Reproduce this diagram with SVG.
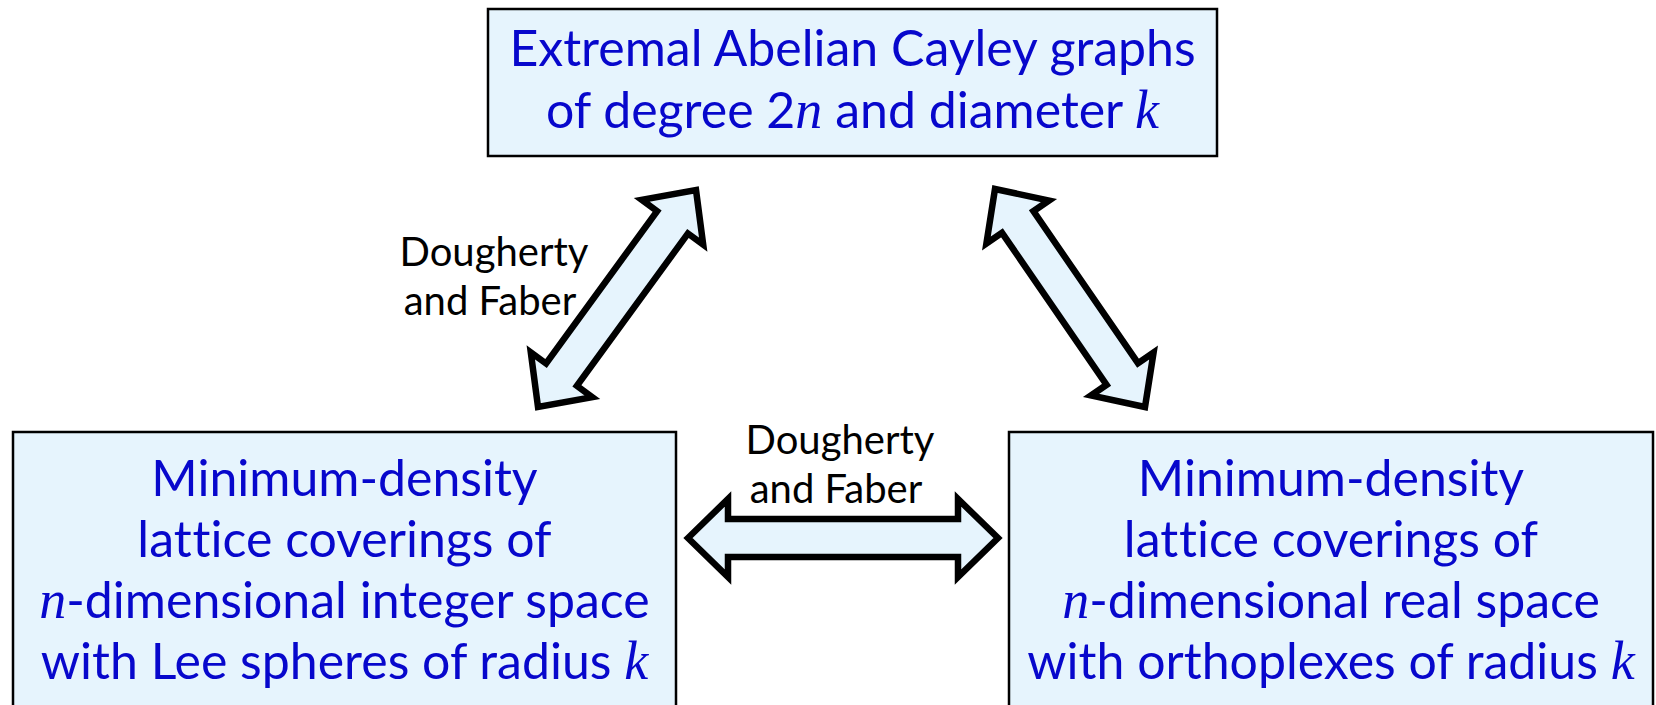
<svg xmlns="http://www.w3.org/2000/svg" width="1656" height="705" viewBox="0 0 1656 705">
<style>
.box{fill:#E6F4FD;stroke:#000;stroke-width:2.5}
.arr{fill:#E6F4FD;stroke:#000;stroke-width:6.5;stroke-linejoin:miter}
.t{font-family:Lato,"Open Sans",sans-serif;font-size:50px;fill:#0707CC;text-anchor:middle;font-variant-ligatures:none;font-feature-settings:"liga" 0,"clig" 0,"calt" 0,"dlig" 0}
.m{font-family:"Liberation Serif",serif;font-style:italic;font-size:54px}
.lbl{font-family:Lato,"Open Sans",sans-serif;font-size:40px;fill:#000;text-anchor:middle;font-variant-ligatures:none}
</style>
<rect width="1656" height="705" fill="#fff"/>
<g id="node-top">
<rect class="box" x="488" y="9" width="729" height="147"/>
<text class="t" x="852.5" y="66">Extremal Abelian Cayley graphs</text>
<text class="t" x="852.5" y="128">of degree 2<tspan class="m">n</tspan> and diameter <tspan class="m">k</tspan></text>
</g>
<g id="node-left">
<rect class="box" x="13" y="432" width="663" height="290"/>
<text class="t" x="344.5" y="496">Minimum-density</text>
<text class="t" x="344.5" y="557">lat<tspan dx="1">tice</tspan> coverings of</text>
<text class="t" x="344.5" y="618"><tspan class="m">n</tspan>-dimensional integer space</text>
<text class="t" x="344.5" y="679">with Lee spheres of radius <tspan class="m">k</tspan></text>
</g>
<g id="node-right">
<rect class="box" x="1009" y="432" width="644" height="290"/>
<text class="t" x="1331" y="496">Minimum-density</text>
<text class="t" x="1331" y="557">lat<tspan dx="1">tice</tspan> coverings of</text>
<text class="t" x="1331" y="618"><tspan class="m">n</tspan>-dimensional real space</text>
<text class="t" x="1331" y="679">with orthoplexes of radius <tspan class="m">k</tspan></text>
</g>
<g id="connectors">
<polygon class="arr" points="696,190 703.2,244.7 687.9,233.5 576.9,385.9 592.2,397.1 538,407 530.8,352.3 546.1,363.5 657.1,211.1 641.8,199.9"/>
<polygon class="arr" points="995,189 1049,200.5 1033.4,211.2 1138,363.2 1153.6,352.5 1145,407 1091,395.5 1106.6,384.8 1002,232.8 986.4,243.5"/>
<polygon class="arr" points="688,538 728,499 728,519 958,519 958,499 998,538 958,577 958,557 728,557 728,577"/>
</g>
<g id="labels">
<text class="lbl" x="494" y="266">Dougherty</text>
<text class="lbl" x="490" y="315">and Faber</text>
<text class="lbl" x="840" y="454">Dougherty</text>
<text class="lbl" x="836" y="503">and Faber</text>
</g>
</svg>
